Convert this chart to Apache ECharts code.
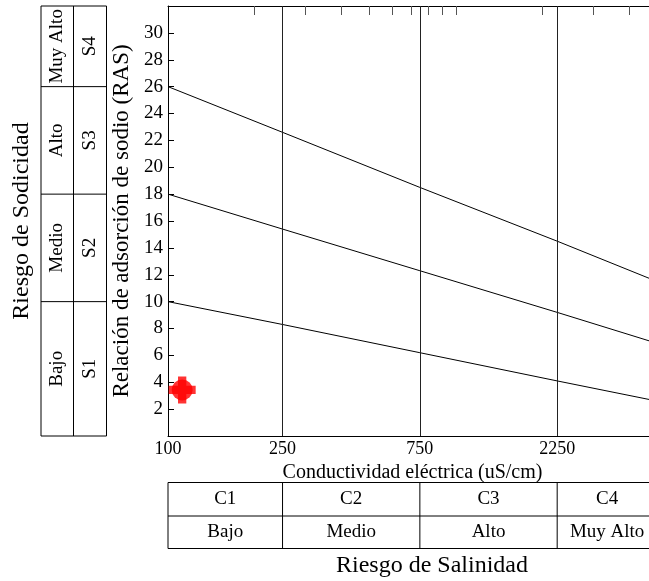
<!DOCTYPE html>
<html><head><meta charset="utf-8">
<script src="https://cdn.jsdelivr.net/npm/echarts@6/dist/echarts.min.js"></script>
<style>html,body{margin:0;padding:0;background:#fff}#c{width:649px;height:581px}</style>
</head><body><div id="c"></div>
<script>
// ---- data ----
const ecLabelTicks = [100, 250, 750, 2250];
const ecClassBounds = [250, 750, 2250];
const ecMinorTicks = [200, 300, 400, 500, 600, 700, 800, 900, 1000, 2000, 3000, 4000];
const lineEC = [100, 250, 750, 2250, 5000];
const lineS1S2 = [10, 8.3, 6.2, 4.1, 2.6];
const lineS2S3 = [18, 15.4, 12.3, 9.2, 6.9];
const lineS3S4 = [26, 22.6, 18.5, 14.5, 11.5];
const sampleEC = [112];
const sampleRAS = [3.43];
const salinityClasses = ['C1', 'C2', 'C3', 'C4'];
const salinityRisk = ['Bajo', 'Medio', 'Alto', 'Muy Alto'];
const sodicityClasses = ['S1', 'S2', 'S3', 'S4'];
const sodicityRisk = ['Bajo', 'Medio', 'Alto', 'Muy Alto'];
const ecMin = 100, ecMax = 5000, rasMin = 0, rasMax = 32, rasStep = 2;

const FONT = '"Liberation Serif", "Times New Roman", serif';
const BLACK = '#000';

const pairs = (xs, ys) => xs.map((x, i) => [x, ys[i]]);
const boundaryLine = (name, ys, extra) => Object.assign({
  name, type: 'line', data: pairs(lineEC, ys), symbol: 'none', silent: true,
  lineStyle: { color: BLACK, width: 1 }, z: 3
}, extra || {});

const chart = echarts.init(document.getElementById('c'), null, { renderer: 'canvas' });

const option = {
  animation: false,
  backgroundColor: '#fff',
  textStyle: { fontFamily: FONT, color: BLACK },
  grid: { left: 168, right: -8, top: 6, bottom: 145, containLabel: false, outerBoundsMode: 'none' },
  xAxis: [
    {
      type: 'log', logBase: 10, min: ecMin, max: ecMax, position: 'bottom',
      axisLine: { show: true, lineStyle: { color: BLACK, width: 1 } },
      axisTick: { show: false },
      axisLabel: { customValues: ecLabelTicks, fontFamily: FONT, fontSize: 18, color: BLACK, margin: 4, formatter: v => String(Math.round(v)) },
      splitLine: { show: false }, minorTick: { show: false },
      name: 'Conductividad eléctrica (uS/cm)', nameLocation: 'middle', nameGap: 22,
      nameTextStyle: { fontFamily: FONT, fontSize: 20, color: BLACK }
    },
    {
      type: 'log', logBase: 10, min: ecMin, max: ecMax, position: 'top',
      axisLine: { show: true, lineStyle: { color: BLACK, width: 1 } },
      axisTick: { show: true, inside: true, length: 9, customValues: ecMinorTicks, lineStyle: { color: '#555', width: 1 } },
      axisLabel: { show: false },
      splitLine: { show: false }
    }
  ],
  yAxis: {
    type: 'value', min: rasMin, max: rasMax, interval: rasStep,
    axisLine: { show: true, lineStyle: { color: BLACK, width: 1 } },
    axisTick: { show: true, inside: true, length: 6, lineStyle: { color: BLACK } },
    axisLabel: {
      fontFamily: FONT, fontSize: 19, color: BLACK, margin: 5,
      formatter: v => (v === rasMin || v === rasMax) ? '' : String(v)
    },
    splitLine: { show: false },
    name: 'Relación de adsorción de sodio (RAS)', nameLocation: 'middle', nameGap: 28,
    nameTextStyle: { fontFamily: FONT, fontSize: 23, color: BLACK }
  },
  series: [
    boundaryLine('S1-S2', lineS1S2, {
      markLine: {
        silent: true, symbol: 'none', animation: false,
        label: { show: false },
        lineStyle: { color: '#222', width: 1, type: 'solid' },
        data: ecClassBounds.map(v => ({ xAxis: v }))
      }
    }),
    boundaryLine('S2-S3', lineS2S3),
    boundaryLine('S3-S4', lineS3S4),
    {
      name: 'Muestra', type: 'scatter', data: pairs(sampleEC, sampleRAS),
      symbol: 'circle', symbolSize: 21, itemStyle: { color: '#ff0000' }, z: 5, silent: true
    },
    {
      name: 'Muestra+', type: 'scatter', data: pairs(sampleEC, sampleRAS),
      symbol: 'path://M9,0H17V9H26V17H17V26H9V17H0V9H9Z', symbolSize: 27,
      itemStyle: { color: '#ff0000' }, z: 5, silent: true
    }
  ]
};
chart.setOption(option);

// ---- side tables built from the axes' own scales ----
const px = (x, y) => chart.convertToPixel({ xAxisIndex: 0, yAxisIndex: 0 }, [x, y]);
const g = [];
const ln = (x1, y1, x2, y2) => g.push({ type: 'line', silent: true, shape: { x1, y1, x2, y2 }, style: { stroke: BLACK, lineWidth: 1 }, z: 10 });
const tx = (text, x, y, size, rot) => g.push({
  type: 'text', silent: true, x, y, rotation: rot || 0, z: 10,
  style: { text, fontFamily: FONT, fontSize: size, fill: BLACK, align: 'center', verticalAlign: 'middle' }
});

// left (sodicity) table
const lx0 = 41, lx1 = 73.5, lx2 = 106.5;
const yTop = px(ecMin, rasMax)[1], yBot = px(ecMin, rasMin)[1];
const yBounds = [yBot, px(ecMin, lineS1S2[0])[1], px(ecMin, lineS2S3[0])[1], px(ecMin, lineS3S4[0])[1], yTop];
[lx0, lx1, lx2].forEach(x => ln(x, yTop, x, yBot));
yBounds.forEach(y => ln(lx0, y, lx2, y));
for (let i = 0; i < 4; i++) {
  const yc = (yBounds[i] + yBounds[i + 1]) / 2;
  tx(sodicityRisk[i], (lx0 + lx1) / 2, yc, 19, Math.PI / 2);
  tx(sodicityClasses[i], (lx1 + lx2) / 2, yc, 19, Math.PI / 2);
}
tx('Riesgo de Sodicidad', 22, (yTop + yBot) / 2, 24, Math.PI / 2);

// bottom (salinity) table
const xb = [ecMin].concat(ecClassBounds, [ecMax]).map(v => px(v, rasMin)[0]);
const by0 = 482.5, by1 = 516, by2 = 548.5;
[by0, by1, by2].forEach(y => ln(xb[0], y, xb[4], y));
xb.slice(0, 4).forEach(x => ln(x, by0, x, by2));
for (let i = 0; i < 4; i++) {
  const xc = (xb[i] + xb[i + 1]) / 2;
  tx(salinityClasses[i], xc, (by0 + by1) / 2, 19);
  tx(salinityRisk[i], xc, (by1 + by2) / 2, 19);
}
tx('Riesgo de Salinidad', 432, 566, 24);

chart.setOption({ graphic: { elements: g } });
</script>
</body></html>
